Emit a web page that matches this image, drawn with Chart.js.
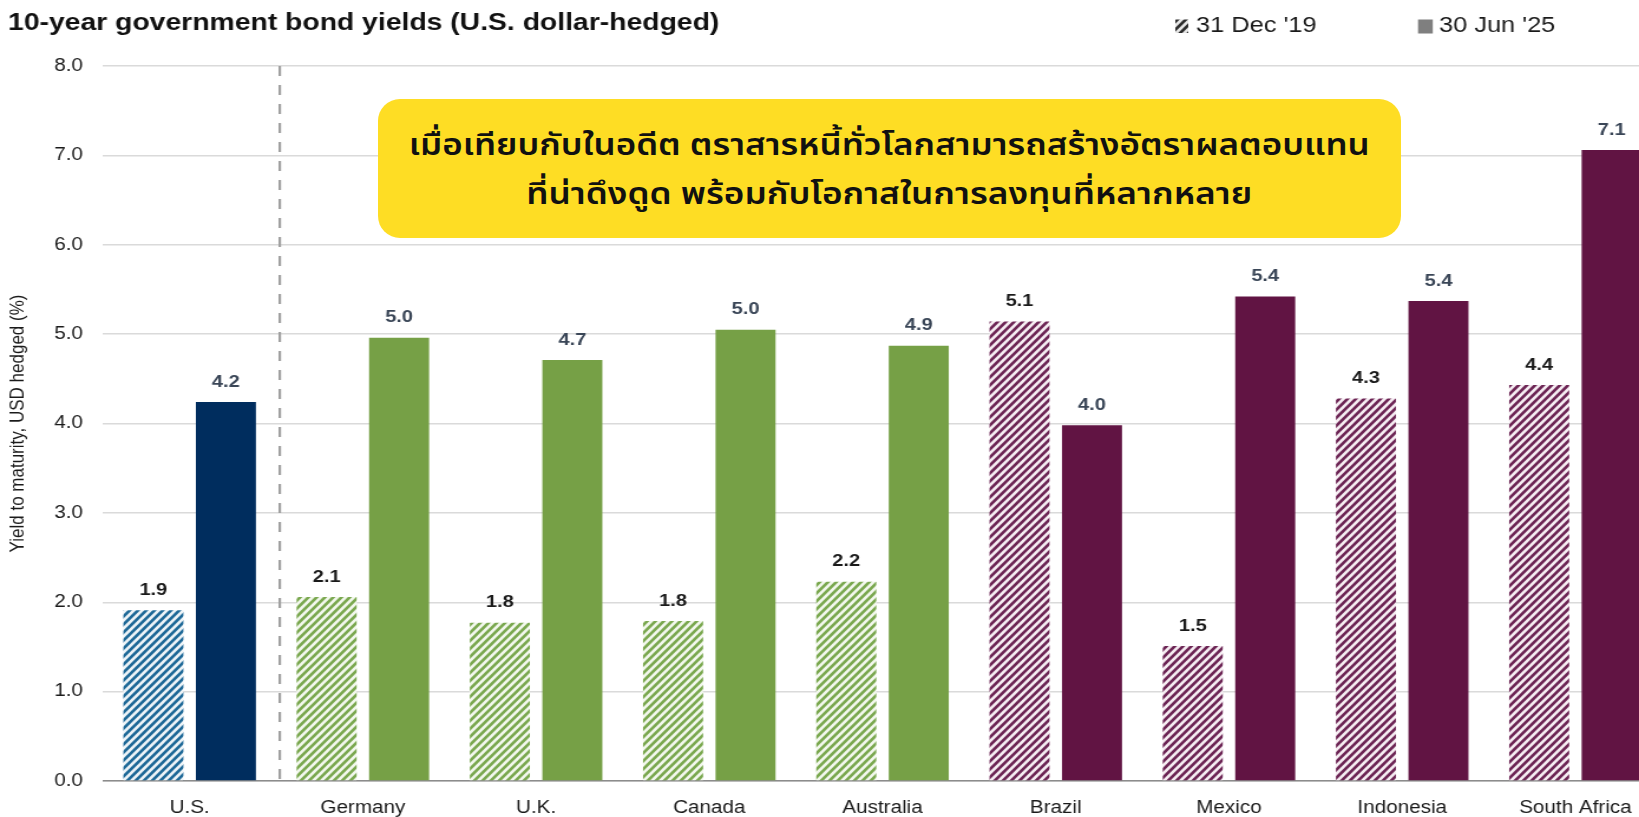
<!DOCTYPE html>
<html>
<head>
<meta charset="utf-8">
<script src="https://cdn.jsdelivr.net/npm/chart.js@4.4.1/dist/chart.umd.min.js"></script>
<style>
  html, body { margin: 0; padding: 0; background: #fff; overflow: hidden; }
  body { width: 1639px; height: 817px; position: relative; }
  #wrap { position: absolute; left: 0; top: 0; width: 1430px; height: 817px;
          transform: scaleX(1.18); transform-origin: 0 0; }
  #note { position: absolute; left: 378px; top: 99px; width: 1023px; height: 139px;
          background: #fedd24; border-radius: 22px; text-align: center;
          font-family: "Noto Sans Thai", "Noto Sans Thai Looped", "Noto Sans", "DejaVu Sans", sans-serif;
          font-weight: 600; font-size: 30px; color: #111; }
  #note div { position: absolute; left: 0; width: 100%; height: 49px; line-height: 49px; }
  #note span { display: inline-block; white-space: nowrap; transform-origin: 50% 50%; }
</style>
</head>
<body>
<div id="wrap"><canvas id="bondChart"></canvas></div>
<div id="note">
  <div style="top:23px"><span data-w="961">เมื่อเทียบกับในอดีต ตราสารหนี้ทั่วโลกสามารถสร้างอัตราผลตอบแทน</span></div>
  <div style="top:72px"><span data-w="726">ที่น่าดึงดูด พร้อมกับโอกาสในการลงทุนที่หลากหลาย</span></div>
</div>
<script>
const categories = ["U.S.", "Germany", "U.K.", "Canada", "Australia", "Brazil", "Mexico", "Indonesia", "South Africa"];
const dec19 = [1.91, 2.06, 1.77, 1.79, 2.23, 5.14, 1.51, 4.28, 4.43];
const jun25 = [4.24, 4.96, 4.71, 5.05, 4.87, 3.98, 5.42, 5.37, 7.06];
const groups = ["us", "dm", "dm", "dm", "dm", "em", "em", "em", "em"];
const seriesNames = ["31 Dec '19", "30 Jun '25"];
const chartTitle = "10-year government bond yields (U.S. dollar-hedged)";
const yTitle = "Yield to maturity, USD hedged (%)";

const solidColors  = { us: "#002d5e", dm: "#76a046", em: "#611443" };
const stripeColors = { us: "#1d6897", dm: "#7aa84f", em: "#6c2454" };
const gapColors    = { us: "#eef4f8", dm: "#f3f8ee", em: "#f6eef3" };

// diagonal "/" stripes, tile is narrower than tall because the canvas is stretched in x
const makeHatch = (stripe, gap) => {
  const c = document.createElement("canvas");
  c.width = 7; c.height = 8;
  const g = c.getContext("2d");
  g.fillStyle = gap;
  g.fillRect(0, 0, 7, 8);
  g.strokeStyle = stripe;
  g.lineWidth = 2.6;
  for (let k = -1; k <= 1; k++) {
    g.beginPath();
    g.moveTo(k * 7 - 1, 8 + 8 / 7);
    g.lineTo(k * 7 + 8, -8 / 7);
    g.stroke();
  }
  return g.createPattern(c, "repeat");
};

const hatchFill = groups.map((g) => makeHatch(stripeColors[g], gapColors[g]));
const solidFill = groups.map((g) => solidColors[g]);
const legendHatch = makeHatch("#2b2b2b", "#e8e8e8");

// value labels above each bar
const valueLabels = {
  id: "valueLabels",
  afterDatasetsDraw(chart) {
    const ctx = chart.ctx;
    ctx.save();
    ctx.font = "bold 17px 'Liberation Sans', Arial, sans-serif";
    ctx.textAlign = "center";
    ctx.textBaseline = "middle";
    chart.data.datasets.forEach((ds, di) => {
      ctx.fillStyle = di === 0 ? "#1a1a1a" : "#3a4657";
      chart.getDatasetMeta(di).data.forEach((bar, i) => {
        ctx.fillText(ds.data[i].toFixed(1), bar.x, bar.y - 20);
      });
    });
    ctx.restore();
  },
};

// dashed divider between the U.S. and the other markets, plus title and legend
const extras = {
  id: "extras",
  beforeDatasetsDraw(chart) {
    const { ctx, chartArea, scales } = chart;
    const x = (scales.x.getPixelForValue(0) + scales.x.getPixelForValue(1)) / 2 + 3;
    ctx.save();
    ctx.strokeStyle = "#a0a0a0";
    ctx.lineWidth = 2.2;
    ctx.setLineDash([10, 9]);
    ctx.beginPath();
    ctx.moveTo(x, chartArea.top);
    ctx.lineTo(x, chartArea.bottom);
    ctx.stroke();
    ctx.restore();
  },
  afterDraw(chart) {
    const ctx = chart.ctx;
    ctx.save();
    ctx.textBaseline = "middle";
    ctx.fillStyle = "#111";
    ctx.font = "bold 24px 'Liberation Sans', Arial, sans-serif";
    ctx.fillText(chartTitle, 6.8, 23);

    ctx.font = "21.5px 'Liberation Sans', Arial, sans-serif";
    ctx.fillStyle = legendHatch;
    ctx.fillRect(996, 19.5, 11, 13.5);
    ctx.fillStyle = "#7f7f7f";
    ctx.fillRect(1201.7, 19.5, 12.5, 14);
    ctx.fillStyle = "#1a1a1a";
    ctx.fillText(seriesNames[0], 1013.6, 26);
    ctx.fillText(seriesNames[1], 1219.5, 26);
    ctx.restore();
  },
};

new Chart(document.getElementById("bondChart").getContext("2d"), {
  type: "bar",
  data: {
    labels: categories,
    datasets: [
      { label: seriesNames[0], data: dec19, backgroundColor: hatchFill, borderWidth: 0 },
      { label: seriesNames[1], data: jun25, backgroundColor: solidFill, borderWidth: 0 },
    ],
  },
  options: {
    responsive: true,
    maintainAspectRatio: false,
    animation: false,
    events: [],
    categoryPercentage: 0.837,
    barPercentage: 0.828,
    layout: { padding: { top: 66, right: 21.5, bottom: 0, left: 0 } },
    plugins: { legend: { display: false }, title: { display: false }, tooltip: { enabled: false } },
    scales: {
      x: {
        grid: { display: false, drawTicks: false },
        border: { display: true, color: "#8c8c8c", width: 1.5 },
        ticks: {
          color: "#1a1a1a",
          padding: 17,
          maxRotation: 0,
          autoSkip: false,
          font: { family: "'Liberation Sans', Arial, sans-serif", size: 17.5 },
        },
        afterFit: (scale) => { scale.height = 36; },
      },
      y: {
        min: 0,
        max: 8,
        grid: { color: "#dadada", lineWidth: 1.5, drawTicks: false },
        border: { display: false },
        ticks: {
          stepSize: 1,
          padding: 17,
          color: "#1a1a1a",
          callback: (v) => v.toFixed(1),
          font: { family: "'Liberation Sans', Arial, sans-serif", size: 17.5 },
        },
        title: {
          display: true,
          text: yTitle,
          color: "#1a1a1a",
          padding: { top: 5, bottom: 0 },
          font: { family: "'Liberation Sans', Arial, sans-serif", size: 17 },
        },
        afterFit: (scale) => { scale.width = 87.3; },
      },
    },
  },
  plugins: [valueLabels, extras],
});

// fit each note line to its measured width in the reference
document.querySelectorAll("#note span").forEach((s) => {
  const w = s.getBoundingClientRect().width;
  if (w > 0) s.style.transform = `scaleX(${+s.dataset.w / w})`;
});
</script>
</body>
</html>
